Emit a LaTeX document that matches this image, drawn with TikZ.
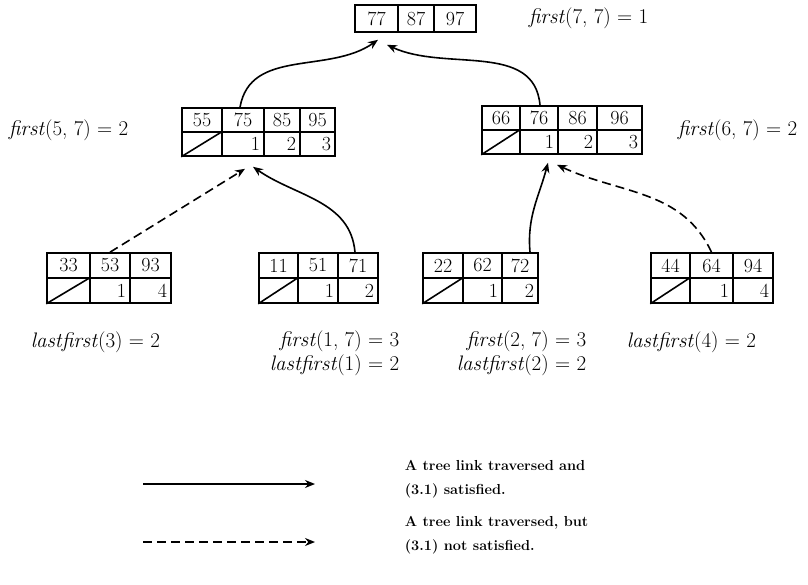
\documentclass[tikz,border=0pt]{standalone}
\usepackage{tikz}
\usepackage{amsmath, amssymb}
\usetikzlibrary{arrows.meta}

\begin{document}
\begin{tikzpicture}[x=1pt, y=-1pt, line width=1.6pt,
	top/.style={draw, inner sep=0pt, minimum height=24pt, font=\fontsize{20}{22}\selectfont},
	low/.style={draw, inner xsep=4pt, inner ysep=0pt, minimum height=24pt, align=right, font=\fontsize{20}{22}\selectfont},
	eqn/.style={inner sep=0pt, font=\fontsize{21}{24}\selectfont},
	note/.style={inner sep=0pt, align=left, font=\fontsize{14.5}{24}\selectfont\bfseries},
	sat/.style={-{Stealth[length=10pt, width=8pt]}},
	unsat/.style={-{Stealth[length=10pt, width=8pt]}, dash pattern=on 9pt off 5pt}]
			\useasboundingbox (0,0) rectangle (808,585);
			% root
			\node [top, minimum width=43pt, minimum height=27pt] (n77) at (376.5,18.5) {77};
			\node [top, minimum width=36pt, minimum height=27pt] (n87) at (416,18.5) {87};
			\node [top, minimum width=42pt, minimum height=27pt] (n97) at (455,18.5) {97};
			\node [eqn, anchor=west] (e77) at (528,18) {\textit{first}(7, 7) = 1};
			% left middle
			\node [top, minimum width=40pt] (n55) at (202,120) {55};
			\node [top, minimum width=42pt] (n75) at (243,120) {75};
			\node [top, minimum width=36pt] (n85) at (282,120) {85};
			\node [top, minimum width=35pt] (n95) at (317.5,120) {95};
			\node [low, text width=32pt] (l55) at (202,144) {};
			\node [low, text width=34pt] (l75) at (243,144) {1};
			\node [low, text width=28pt] (l85) at (282,144) {2};
			\node [low, text width=27pt] (l95) at (317.5,144) {3};
			\draw (l55.south west) -- (l55.north east);
			\node [eqn, anchor=west] (e57) at (8,130) {\textit{first}(5, 7) = 2};
			% right middle
			\node [top, minimum width=38pt] (n66) at (501,118) {66};
			\node [top, minimum width=38pt] (n76) at (539,118) {76};
			\node [top, minimum width=39pt] (n86) at (577.5,118) {86};
			\node [top, minimum width=45pt] (n96) at (619.5,118) {96};
			\node [low, text width=30pt] (l66) at (501,142) {};
			\node [low, text width=30pt] (l76) at (539,142) {1};
			\node [low, text width=31pt] (l86) at (577.5,142) {2};
			\node [low, text width=37pt] (l96) at (619.5,142) {3};
			\draw (l66.south west) -- (l66.north east);
			\node [eqn, anchor=west] (e67) at (677,130) {\textit{first}(6, 7) = 2};
			% leaves
			\node [top, minimum width=43pt, minimum height=25pt] (n33) at (68.5,265.5) {33};
			\node [top, minimum width=40pt, minimum height=25pt] (n53) at (110,265.5) {53};
			\node [top, minimum width=41pt, minimum height=25pt] (n93) at (150.5,265.5) {93};
			\node [low, text width=35pt, minimum height=25pt] (l33) at (68.5,290.5) {};
			\node [low, text width=32pt, minimum height=25pt] (l53) at (110,290.5) {1};
			\node [low, text width=33pt, minimum height=25pt] (l93) at (150.5,290.5) {4};
			\draw (l33.south west) -- (l33.north east);
			\node [top, minimum width=39pt, minimum height=25pt] (n11) at (278.5,265.5) {11};
			\node [top, minimum width=40pt, minimum height=25pt] (n51) at (318,265.5) {51};
			\node [top, minimum width=40pt, minimum height=25pt] (n71) at (358,265.5) {71};
			\node [low, text width=31pt, minimum height=25pt] (l11) at (278.5,290.5) {};
			\node [low, text width=32pt, minimum height=25pt] (l51) at (318,290.5) {1};
			\node [low, text width=32pt, minimum height=25pt] (l71) at (358,290.5) {2};
			\draw (l11.south west) -- (l11.north east);
			\node [top, minimum width=40pt, minimum height=25pt] (n22) at (443,265.5) {22};
			\node [top, minimum width=39pt, minimum height=25pt] (n62) at (482.5,265.5) {62};
			\node [top, minimum width=36pt, minimum height=25pt] (n72) at (520,265.5) {72};
			\node [low, text width=32pt, minimum height=25pt] (l22) at (443,290.5) {};
			\node [low, text width=31pt, minimum height=25pt] (l62) at (482.5,290.5) {1};
			\node [low, text width=28pt, minimum height=25pt] (l72) at (520,290.5) {2};
			\draw (l22.south west) -- (l22.north east);
			\node [top, minimum width=39pt, minimum height=25pt] (n44) at (670.5,265.5) {44};
			\node [top, minimum width=43pt, minimum height=25pt] (n64) at (711.5,265.5) {64};
			\node [top, minimum width=40pt, minimum height=25pt] (n94) at (753,265.5) {94};
			\node [low, text width=31pt, minimum height=25pt] (l44) at (670.5,290.5) {};
			\node [low, text width=35pt, minimum height=25pt] (l64) at (711.5,290.5) {1};
			\node [low, text width=32pt, minimum height=25pt] (l94) at (753,290.5) {4};
			\draw (l44.south west) -- (l44.north east);
			\node [eqn, anchor=west] (e3) at (30,342) {\textit{lastfirst}(3) = 2};
			\node [eqn, anchor=east, align=right] (e1) at (400,353) {\textit{first}(1, 7) = 3\\\textit{lastfirst}(1) = 2};
			\node [eqn, anchor=east, align=right] (e2) at (587,353) {\textit{first}(2, 7) = 3\\\textit{lastfirst}(2) = 2};
			\node [eqn, anchor=west] (e4) at (626,342) {\textit{lastfirst}(4) = 2};
			% tree links
			\draw [sat] ([xshift=-3pt]n75.north) to [out=80, in=-145] ([xshift=1.5pt, yshift=-7pt]n77.south);
			\draw [sat] ([xshift=1pt]n76.north) to [out=95, in=-25] ([xshift=10.5pt, yshift=-12pt]n77.south);
			\draw [unsat] (n53.north) -- ([xshift=2pt, yshift=-12pt]l75.south);
			\draw [sat] ([xshift=-3pt]n71.north) to [out=95, in=-35] ([xshift=10pt, yshift=-10pt]l75.south);
			\draw [sat] ([xshift=10pt]n72.north) to [out=95, in=-105] ([xshift=9pt, yshift=-8pt]l76.south);
			\draw [unsat] (n64.north) to [out=115, in=-25] ([xshift=18pt, yshift=-10pt]l76.south);
			% key
			\coordinate (s0) at (143,484);
			\coordinate (s1) at (315,484);
			\draw [sat] (s0) -- (s1);
			\node [note, anchor=west] (k1) at (404,479) {A tree link traversed and\\(3.1) satisfied.};
			\coordinate (d0) at (143,542);
			\coordinate (d1) at (315,542);
			\draw [unsat] (d0) -- (d1);
			\node [note, anchor=west] (k2) at (404,535) {A tree link traversed, but\\(3.1) not satisfied.};
\end{tikzpicture}
\end{document}
